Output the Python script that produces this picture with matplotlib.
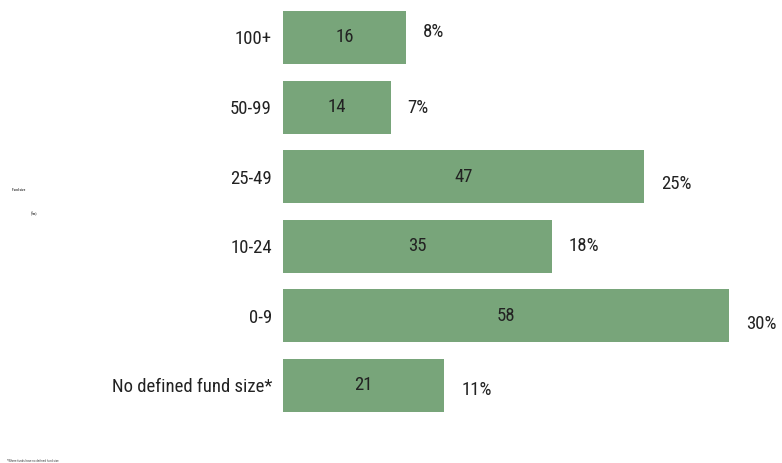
import matplotlib.pyplot as plt
from matplotlib import font_manager

names = {f.name for f in font_manager.fontManager.ttflist}
family = 'Liberation Sans'
for cand in ['Liberation Sans Narrow', 'Roboto Condensed', 'Open Sans Condensed', 'DejaVu Sans Condensed']:
    if cand in names:
        family = cand
        break
plt.rcParams['font.family'] = [family, 'DejaVu Sans']

categories = ['100+', '50-99', '25-49', '10-24', '0-9', 'No defined fund size*']
counts = [16, 14, 47, 35, 58, 21]
shares = ['8%', '7%', '25%', '18%', '30%', '11%']
share_dy = [4, -1, -5, 0, -6, -3]

green = '#78a57a'
fs = 13.5 if family != 'Liberation Sans' else 12.5

fig = plt.figure(figsize=(7.82, 4.63), dpi=100)
ax = fig.add_axes([283 / 782, 1 - 420.3 / 463, 499 / 782, 417.6 / 463])

y = list(range(len(categories)))
ax.barh(y, counts, height=0.76, color=green)
ax.set_ylim(len(categories) - 0.5, -0.5)
ax.set_xlim(0, 499 / 7.69)

for yi, c, s, dy in zip(y, counts, shares, share_dy):
    ax.text(c / 2, yi, str(c), ha='center', va='center', fontsize=fs, color='#222222')
    ax.annotate(s, (c, yi), xytext=(12, dy), textcoords='offset points',
                ha='left', va='center', fontsize=fs, color='#222222',
                annotation_clip=False)

ax.set_yticks(y)
ax.set_yticklabels(categories, fontsize=fs, color='#222222')
ax.tick_params(axis='y', length=0, pad=8)
ax.set_xticks([])
for sp in ax.spines.values():
    sp.set_visible(False)

fig.text(12 / 782, 1 - 190 / 463, 'Fund size', fontsize=2.5, ha='left', va='center',
         color='#444444', weight='bold')
fig.text(31 / 782, 1 - 214 / 463, '($m)', fontsize=2.5, ha='left', va='center',
         color='#444444', weight='bold')
fig.text(7 / 782, 1 - 461 / 463, '*Where funds have no defined fund size', fontsize=2.3,
         ha='left', va='center', color='#444444')

fig.savefig('out.png', dpi=100)
